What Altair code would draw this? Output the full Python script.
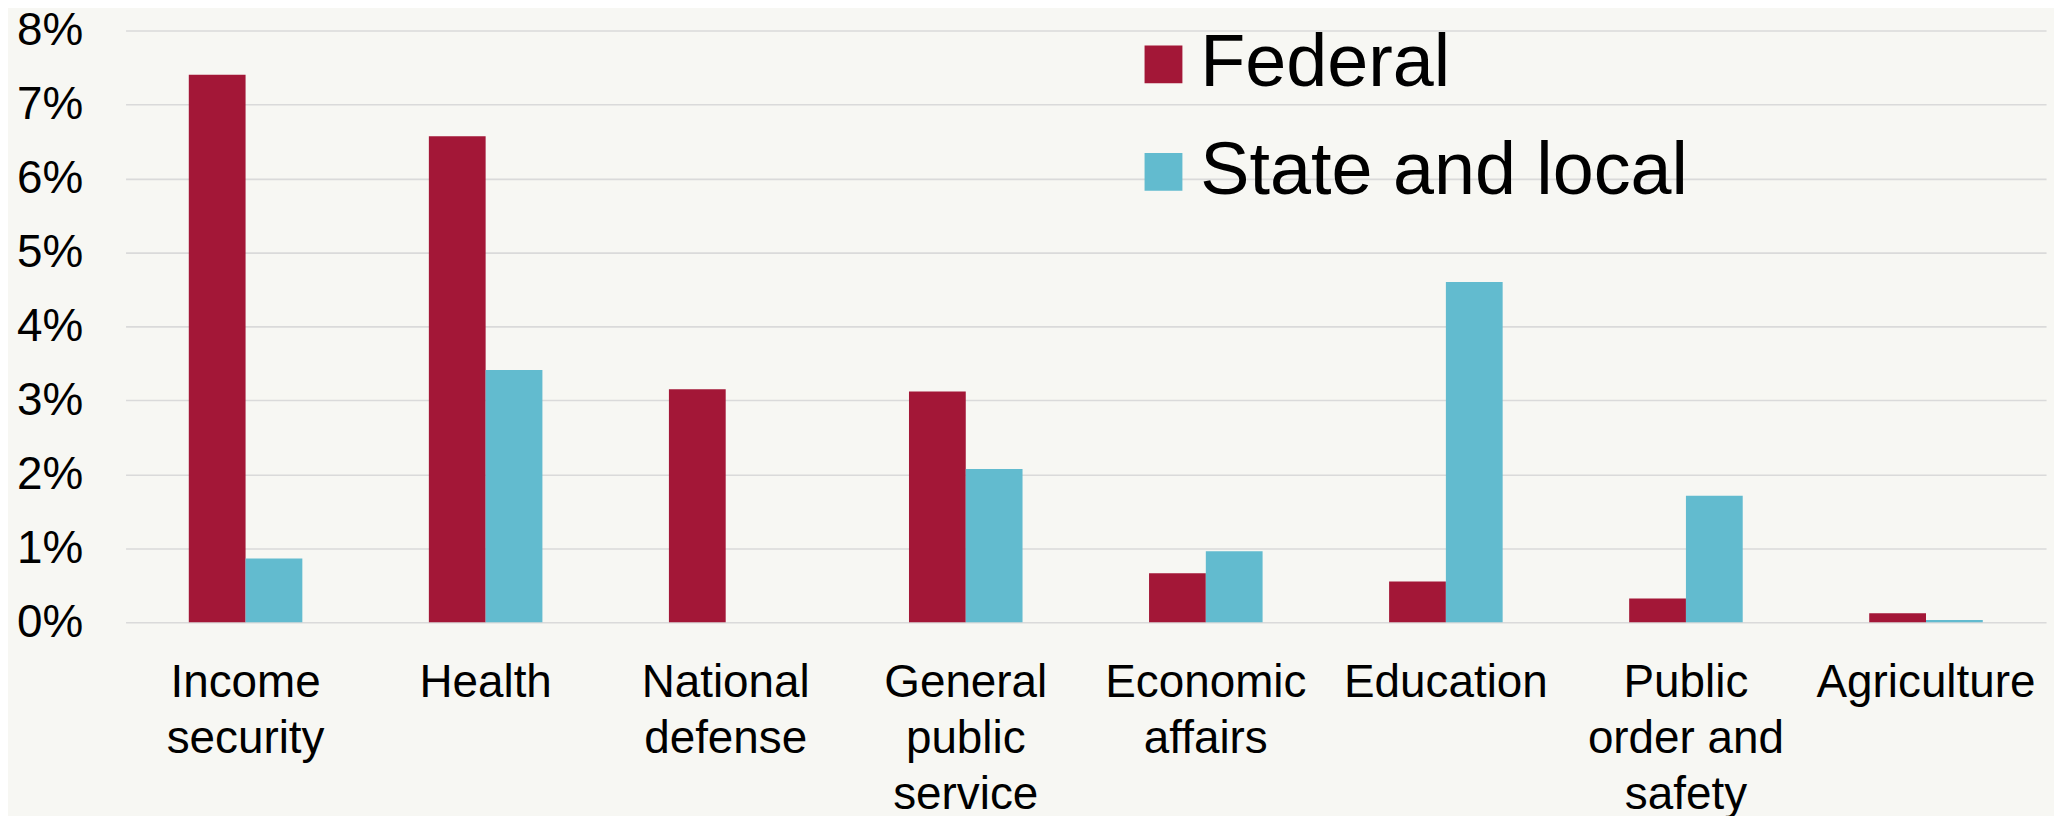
import json
import altair as alt
import pandas as pd

categories = ["Income security", "Health", "National defense", "General public service",
              "Economic affairs", "Education", "Public order and safety", "Agriculture"]
label_lines = [["Income", "security"], ["Health"], ["National", "defense"],
               ["General", "public", "service"], ["Economic", "affairs"], ["Education"],
               ["Public", "order and", "safety"], ["Agriculture"]]
series = ["Federal", "State and local"]
federal = [0.0740, 0.0657, 0.0315, 0.0312, 0.0066, 0.0055, 0.0032, 0.0012]
state_local = [0.0086, 0.0341, 0.0, 0.0207, 0.0096, 0.0460, 0.0171, 0.0003]
colors = ["#A31737", "#62BBCF"]
y_ticks = [0, 0.01, 0.02, 0.03, 0.04, 0.05, 0.06, 0.07, 0.08]

rows = []
for c, f, s in zip(categories, federal, state_local):
    rows.append({"category": c, "series": series[0], "value": f})
    rows.append({"category": c, "series": series[1], "value": s})
df = pd.DataFrame(rows)

label_map = json.dumps({c: l for c, l in zip(categories, label_lines)})
FONT = "Liberation Sans, Arial, sans-serif"

chart = alt.Chart(df).mark_bar().encode(
    x=alt.X("category:N", sort=categories,
            scale=alt.Scale(paddingInner=0.527, paddingOuter=0.2635),
            axis=alt.Axis(title=None, labelAngle=0, ticks=False, domain=False, grid=False,
                          labelFontSize=46, labelFont=FONT, labelColor="#000000",
                          labelPadding=39, labelLineHeight=56, labelLimit=400,
                          labelExpr=label_map + "[datum.label]")),
    xOffset=alt.XOffset("series:N", sort=series,
                        scale=alt.Scale(paddingInner=0, paddingOuter=0)),
    y=alt.Y("value:Q", scale=alt.Scale(domain=[0, 0.08], nice=False),
            axis=alt.Axis(title=None, values=y_ticks, format=".0%", ticks=False, domain=False,
                          grid=True, gridColor="#DADADA", gridWidth=1.6,
                          labelFontSize=46, labelFont=FONT, labelColor="#000000",
                          labelPadding=43)),
    color=alt.Color("series:N", sort=series,
                    scale=alt.Scale(domain=series, range=colors),
                    legend=alt.Legend(title=None, orient="none", legendX=1005, legendY=-3,
                                      symbolType="square", symbolSize=1444,
                                      symbolStrokeWidth=0, labelFontSize=74, labelFont=FONT,
                                      labelColor="#000000", labelOffset=0, rowPadding=34,
                                      labelLimit=1000)),
).properties(
    width=1928, height=594,
    autosize=alt.AutoSizeParams(type="none"),
    padding={"left": 118, "top": 21, "right": 8, "bottom": 193},
    background="#F7F7F3",
).configure_view(stroke=None)

chart.save("out.html", embed_options={"renderer": "svg", "actions": False})
